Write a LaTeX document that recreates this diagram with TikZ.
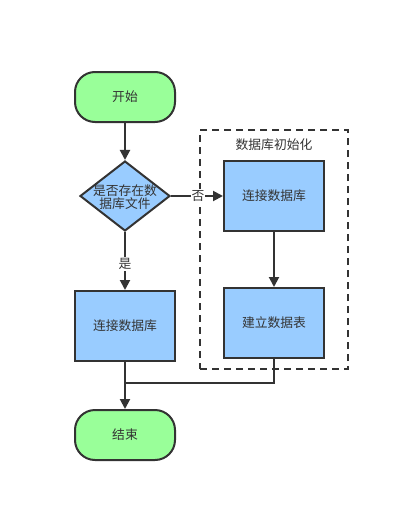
\documentclass[tikz,border=0pt]{standalone}
\usepackage{fontspec}
\setmainfont{Noto Sans CJK SC}
\usetikzlibrary{arrows.meta,shapes.geometric}
\definecolor{stroke}{HTML}{333333}
\definecolor{gfill}{HTML}{99FF99}
\definecolor{bfill}{HTML}{99CCFF}
\begin{document}
\begin{tikzpicture}[x=1pt,y=-1pt,
  every node/.style={font=\fontsize{12.8}{14.5}\selectfont, text=stroke},
  term/.style={draw=stroke, line width=2pt, fill=gfill, rounded corners=20pt, minimum width=100pt, minimum height=50pt, inner sep=0pt},
  proc/.style={draw=stroke, line width=2pt, fill=bfill, minimum width=100pt, minimum height=70pt, inner sep=0pt},
  decide/.style={draw=stroke, line width=2pt, fill=bfill, diamond, aspect=1.2857, minimum width=90pt, minimum height=70pt, inner sep=0pt},
  conn/.style={draw=stroke, line width=2pt},
  arr/.style={conn, -{Triangle[length=10pt,width=10pt]}},
  lbl/.style={fill=white, inner sep=1pt},
  group/.style={draw=stroke, line width=2pt, dash pattern=on 7pt off 5pt}
]
\useasboundingbox (0,0) rectangle (416,522);
\node[group, minimum width=148pt, minimum height=239pt, inner sep=0pt] (grp) at (274,249.5) {};
\node (gtitle) at (274,145) {数据库初始化};
\node[term] (start) at (125,97) {开始};
\node[decide] (dec) at (125,196) {};
\node[align=center, inner sep=0pt] (dectext) at (125,197) {是否存在数\\[-1.5pt]据库文件};
\node[proc] (lconn) at (125,326) {连接数据库};
\node[term] (end) at (125,435) {结束};
\node[proc] (rconn) at (274,196) {连接数据库};
\node[proc] (mk) at (274,323) {建立数据表};
\coordinate (merge) at (125,383);
\draw[arr] (start) -- (dec);
\draw[arr] (dec) -- node[lbl, pos=0.52] {否} (rconn);
\draw[arr] (dec) -- node[lbl, pos=0.55] {是} (lconn);
\draw[arr] (rconn) -- (mk);
\draw[arr] (lconn) -- (end);
\draw[conn] (mk.south) |- (merge);
\end{tikzpicture}
\end{document}
